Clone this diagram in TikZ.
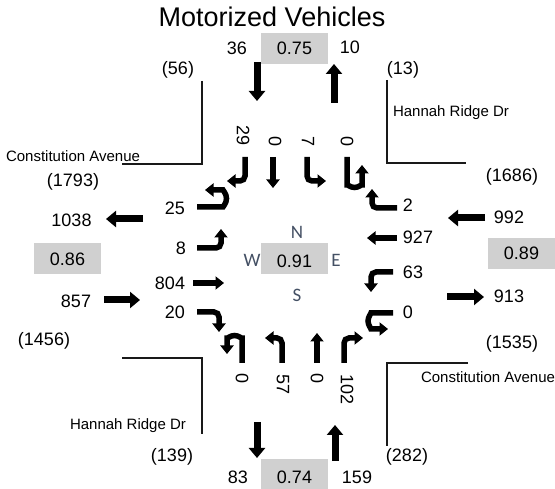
\documentclass[tikz,border=0pt]{standalone}
\usepackage{fontspec}
\setmainfont{Liberation Sans}
\newfontfamily\compfont{Carlito}
\usetikzlibrary{arrows.meta}
\definecolor{boxgray}{RGB}{208,208,208}
\definecolor{compasscol}{RGB}{68,80,100}
\tikzset{
  num/.style={font=\fontsize{18}{20}\selectfont, inner sep=0pt},
  smalltxt/.style={font=\fontsize{15}{17}\selectfont, inner sep=0pt},
  rnum/.style={num, rotate=-90},
  gbox/.style={fill=boxgray, draw=none, minimum width=67pt, minimum height=31pt, inner sep=0pt, font=\fontsize{18}{20}\selectfont},
  road/.style={line width=2pt, black!90},
  bigarrow/.style={line width=7pt, -{Triangle[width=16pt,length=10pt]}},
  turnarrow/.style={line width=5.5pt, -{Triangle[width=13pt,length=8.5pt]}, rounded corners=5pt},
  compass/.style={font=\compfont\fontsize{19}{21}\selectfont, text=compasscol, inner sep=0pt},
}
\begin{document}
\begin{tikzpicture}[x=1pt,y=1pt]
\useasboundingbox (0,0) rectangle (555,-489);

% title
\node[anchor=base, font=\fontsize{27}{31}\selectfont] (title) at (272,-27) {Motorized Vehicles};

% gray boxes
\node[gbox] (bN) at (294.5,-48.5) {0.75};
\node[gbox] (bW) at (67.5,-259) {0.86};
\node[gbox] (bE) at (521.5,-253.5) {0.89};
\node[gbox] (bC) at (294.5,-258.5) {};
\node[num] (tC) at (294.5,-261) {0.91};
\node[gbox, minimum height=30pt] (bS) at (294.5,-474) {};
\node[num] (tS) at (294.5,-477) {0.74};

% road corner lines
\draw[road] (202,-81) -- (202,-164) -- (122,-164);
\draw[road] (387,-80) -- (387,-163) -- (466,-163);
\draw[road] (122,-358) -- (202,-358) -- (202,-434);
\draw[road] (468,-363) -- (387,-363) -- (387,-446);

% outer labels
\node[num] (n36) at (237,-48) {36};
\node[num] (n10) at (350,-47) {10};
\node[num] (p56) at (178,-70) {(56)};
\node[num] (p13) at (403,-70) {(13)};
\node[smalltxt] (hrTop) at (451,-113) {Hannah Ridge Dr};
\node[smalltxt] (caLeft) at (73,-156) {Constitution Avenue};
\node[num] (p1793) at (73,-182) {(1793)};
\node[num] (n1038) at (71.5,-220) {1038};
\node[num] (n857) at (76,-301) {857};
\node[num] (p1456) at (44,-341) {(1456)};
\node[num] (p1686) at (512,-177) {(1686)};
\node[num] (n992) at (509,-217) {992};
\node[num] (n913) at (509,-296) {913};
\node[num] (p1535) at (512,-344) {(1535)};
\node[smalltxt] (caRight) at (488,-377) {Constitution Avenue};
\node[smalltxt] (hrBot) at (128,-426) {Hannah Ridge Dr};
\node[num] (p139) at (172,-457) {(139)};
\node[num] (p282) at (407,-457) {(282)};
\node[num] (n83) at (238,-477) {83};
\node[num] (n159) at (357,-477) {159};

% outer arrows
\draw[bigarrow] (257,-62) -- (257,-101);
\draw[bigarrow] (334,-103) -- (334,-64);
\draw[bigarrow] (143,-219) -- (106,-219);
\draw[bigarrow] (104,-300) -- (140,-300);
\draw[bigarrow] (485,-218) -- (448,-218);
\draw[bigarrow] (447,-297) -- (484,-297);
\draw[bigarrow] (257,-422) -- (257,-458);
\draw[bigarrow] (335,-461) -- (335,-425);

% compass
\node[compass] (cN) at (297,-232) {N};
\node[compass] (cW) at (252,-260) {W};
\node[compass] (cE) at (336,-260) {E};
\node[compass] (cS) at (297,-295) {S};

% north approach
\node[rnum] (nR) at (243,-136) {29};
\node[rnum] (nT) at (275,-142) {0};
\node[rnum] (nL) at (308,-142) {7};
\node[rnum] (nU) at (347,-142) {0};
\draw[turnarrow] (245,-157) |- (227,-181);
\draw[turnarrow] (273,-157) -- (273,-188);
\draw[turnarrow] (307,-157) |- (326,-181);
\draw[turnarrow] (347,-157) -- (347,-180) arc[start angle=180,end angle=360,radius=7.5] -- (362,-165);

% west approach
\node[num] (wU) at (175,-208) {25};
\node[num] (wL) at (181,-248) {8};
\node[num] (wT) at (170,-283) {804};
\node[num] (wR) at (175,-312) {20};
\draw[turnarrow] (197,-207) -- (218,-207) arc[start angle=-90,end angle=90,radius=8.5] -- (205,-190);
\draw[turnarrow] (197,-248) -| (221,-229);
\draw[turnarrow] (193,-283) -- (224,-283);
\draw[turnarrow] (197,-312) -| (219,-332);

% east approach
\node[num] (eR) at (408,-205) {2};
\node[num] (eT) at (418,-237) {927};
\node[num] (eL) at (413,-272) {63};
\node[num] (eU) at (408,-312) {0};
\draw[turnarrow] (397,-208) -| (372,-189);
\draw[turnarrow] (397,-238) -- (367,-238);
\draw[turnarrow] (393,-272) -| (371,-292);
\draw[turnarrow] (393,-313) -- (376,-313) arc[start angle=90,end angle=270,radius=8] -- (388,-329);

% south approach
\node[rnum] (sU) at (242,-379) {0};
\node[rnum] (sL) at (283,-385) {57};
\node[rnum] (sT) at (317,-379) {0};
\node[rnum] (sR) at (347,-390) {102};
\draw[turnarrow] (242,-363) -- (242,-343) arc[start angle=0,end angle=180,radius=7.5] -- (227,-354);
\draw[turnarrow] (282,-363) |- (265,-338);
\draw[turnarrow] (317,-363) -- (317,-333);
\draw[turnarrow] (344,-363) |- (363,-338);
\end{tikzpicture}
\end{document}
